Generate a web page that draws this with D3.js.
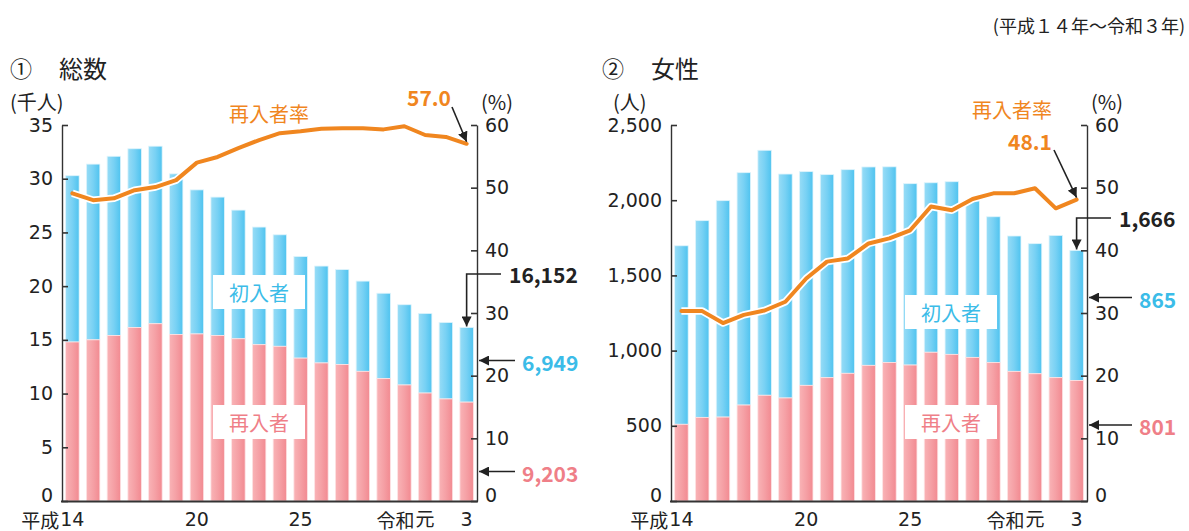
<!DOCTYPE html>
<html><head><meta charset="utf-8">
<script src="https://cdn.jsdelivr.net/npm/d3@7"></script>
<style>
html,body{margin:0;padding:0;background:#fff;}
svg{display:block;font-family:"Noto Sans CJK JP","Noto Sans",sans-serif;}
</style></head>
<body>
<svg id="chart" width="1189" height="531"></svg>
<script>
// ---- data ----
const years = ["平成14","15","16","17","18","19","20","21","22","23","24","25","26","27","28","29","30","令和元","2","3"];
const shownYears = ["平成14","20","25","令和元","3"];

// ① 総数 (千人)
const totalRe    = [14.80,15.00,15.40,16.15,16.50,15.50,15.55,15.40,15.10,14.55,14.40,13.30,12.85,12.70,12.07,11.39,10.80,10.05,9.50,9.203];
const totalFirst = [15.48,16.36,16.69,16.64,16.53,14.95,13.41,12.89,11.98,10.95,10.38,9.46,9.02,8.84,8.40,7.95,7.47,7.41,7.12,6.949];
const totalRate  = [49.1,48.0,48.3,49.6,50.1,51.2,54.0,54.9,56.3,57.6,58.7,59.0,59.4,59.5,59.5,59.3,59.8,58.4,58.1,57.0];
const totalTicks = [0,5,10,15,20,25,30,35];

// ② 女性 (人)
const femRe    = [510,556,558,638,703,685,769,820,849,902,921,904,989,975,955,920,862,846,820,801];
const femFirst = [1187,1308,1439,1545,1629,1489,1421,1350,1354,1319,1301,1206,1127,1148,1040,970,900,865,946,865];
const femRate  = [30.3,30.3,28.4,29.7,30.4,31.8,35.5,38.2,38.7,41.1,41.9,43.2,47.0,46.4,48.2,49.1,49.1,49.9,46.7,48.1];
const femTicks = [0,500,1000,1500,2000,2500];

const rateTicks = [0,10,20,30,40,50,60];

// ---- colours ----
const C = {axis:"#333", text:"#222", orange:"#f0861f", blue:"#3bbce8", pink:"#ef7f88"};
const NUMFONT = "'DejaVu Sans','Noto Sans CJK JP',sans-serif";

const svg = d3.select("#chart");
const defs = svg.append("defs");
function grad(id, stops){
  const g = defs.append("linearGradient").attr("id",id).attr("x1",0).attr("x2",1).attr("y1",0).attr("y2",0);
  stops.forEach(s=>g.append("stop").attr("offset",s[0]).attr("stop-color",s[1]));
}
grad("gBlue",[[0,"#97dcf6"],[0.5,"#78d1f4"],[1,"#4fc3ef"]]);
grad("gPink",[[0,"#f9b3b6"],[0.5,"#f5a0a5"],[1,"#f28a91"]]);
defs.append("marker").attr("id","arr").attr("viewBox","0 0 10 10").attr("refX",10).attr("refY",5)
  .attr("markerWidth",10).attr("markerHeight",10).attr("markerUnits","userSpaceOnUse").attr("orient","auto")
  .append("path").attr("d","M0,0 L10,5 L0,10 Z").attr("fill","#222");

function panel(cfg){
  const g = svg.append("g");
  const x = d3.scaleBand().domain(d3.range(years.length)).range([cfg.x0,cfg.x1]).paddingInner(0.35).paddingOuter(0.175);
  const y = d3.scaleLinear().domain([0,cfg.max]).range([cfg.yB,cfg.yT]);
  const yr = d3.scaleLinear().domain([0,60]).range([cfg.yB,cfg.yT]);

  // bars
  const stack = years.map((yy,i)=>({i, re:cfg.re[i], first:cfg.first[i]}));
  g.append("g").selectAll("rect").data(stack).join("rect")
    .attr("x",d=>x(d.i)).attr("width",x.bandwidth())
    .attr("y",d=>y(d.re+d.first)).attr("height",d=>y(d.re)-y(d.re+d.first))
    .attr("fill","url(#gBlue)").attr("stroke","#dff4fc").attr("stroke-width",0.8);
  g.append("g").selectAll("rect").data(stack).join("rect")
    .attr("x",d=>x(d.i)).attr("width",x.bandwidth())
    .attr("y",d=>y(d.re)).attr("height",d=>cfg.yB-y(d.re))
    .attr("fill","url(#gPink)").attr("stroke","#fde3e4").attr("stroke-width",0.8);

  // label boxes
  cfg.boxes.forEach(b=>{
    g.append("rect").attr("x",b.x).attr("y",b.y).attr("width",92).attr("height",34).attr("fill","#fff");
    g.append("text").attr("x",b.x+46).attr("y",b.y+17).attr("text-anchor","middle").attr("dominant-baseline","central")
      .attr("font-size",20).attr("fill",b.c).text(b.t);
  });

  // rate line
  const line = d3.line().x((d,i)=>x(i)+x.bandwidth()/2).y(d=>yr(d));
  g.append("path").datum(cfg.rate).attr("d",line).attr("fill","none").attr("stroke","#fff").attr("stroke-width",7.5).attr("stroke-linejoin","round");
  g.append("path").datum(cfg.rate).attr("d",line).attr("fill","none").attr("stroke",C.orange).attr("stroke-width",4).attr("stroke-linejoin","round").attr("stroke-linecap","round");

  // axes
  const aL = d3.axisLeft(y).tickValues(cfg.ticks).tickSizeInner(-6).tickSizeOuter(0).tickPadding(9).tickFormat(cfg.fmt);
  const gl = g.append("g").attr("transform",`translate(${cfg.x0},0)`).call(aL);
  const aR = d3.axisRight(yr).tickValues(rateTicks).tickSizeInner(-6).tickSizeOuter(0).tickPadding(8).tickFormat(d3.format("d"));
  const gr = g.append("g").attr("transform",`translate(${cfg.x1},0)`).call(aR);
  [gl,gr].forEach(a=>{
    a.selectAll("path.domain").attr("stroke",C.axis).attr("stroke-width",1.4);
    a.selectAll(".tick line").attr("stroke",C.axis).attr("stroke-width",1.6);
    a.selectAll(".tick text").attr("font-size",19).attr("fill",C.text).attr("font-family",NUMFONT);
    a.selectAll(".tick").filter(d=>d===0).select("text").attr("y",-6);
  });
  g.append("line").attr("x1",cfg.x0-1).attr("x2",cfg.x1+1).attr("y1",cfg.yB+0.5).attr("y2",cfg.yB+0.5).attr("stroke",C.axis).attr("stroke-width",2);

  // x labels: number part centred under its bar
  shownYears.forEach(lbl=>{
    const i = years.indexOf(lbl);
    const m = lbl.match(/^(平成|令和)?(.*)$/);
    const cx = x(i)+x.bandwidth()/2;
    const num = g.append("text").attr("x",cx).attr("y",519).attr("text-anchor","middle").attr("dominant-baseline","central")
      .attr("font-size",19).attr("fill",C.text).attr("font-family",NUMFONT).text(m[2]);
    if(m[1]){
      const w = num.node().getComputedTextLength();
      g.append("text").attr("x",cx-w/2-1).attr("y",519).attr("text-anchor","end").attr("dominant-baseline","central")
        .attr("font-size",19).attr("fill",C.text).text(m[1]);
    }
  });

  // titles / units
  const T = (xx,yy,t,o)=>{ const e=g.append("text").attr("x",xx).attr("y",yy).attr("dominant-baseline","central").text(t);
    Object.entries(o||{}).forEach(([k,v])=>e.attr(k,v)); return e; };
  T(cfg.titleX,67,cfg.num,{"font-size":22,fill:C.text});
  T(cfg.titleX+49,67,cfg.title,{"font-size":24,fill:C.text});
  T(cfg.unitX,101,cfg.unit,{"font-size":20,fill:C.text});
  T(cfg.x1+4,101,"(%)",{"font-size":20,fill:C.text});
  T(cfg.rateLbl[0],cfg.rateLbl[1],"再入者率",{"font-size":20,fill:C.orange,"text-anchor":"middle"});

  // annotations
  const last = years.length-1, lx = x(last)+x.bandwidth()/2;
  T(cfg.rv[0],cfg.rv[1],d3.format(".1f")(cfg.rate[last]),{"font-size":21,"font-weight":"bold",fill:C.orange,"text-anchor":"middle"});
  g.append("line").attr("x1",cfg.rv[2]).attr("y1",cfg.rv[3]).attr("x2",lx).attr("y2",yr(cfg.rate[last])-2)
    .attr("stroke","#222").attr("stroke-width",1.6).attr("marker-end","url(#arr)");
  const tot = cfg.re[last]+cfg.first[last];
  T(cfg.tv[0],cfg.tv[1],cfg.totFmt(tot),{"font-size":21,"font-weight":"bold",fill:C.text});
  g.append("path").attr("d",`M${cfg.tv[0]-8},${cfg.tv[1]} H${lx} V${y(tot)-1}`).attr("fill","none")
    .attr("stroke","#222").attr("stroke-width",1.6).attr("marker-end","url(#arr)");
  const ax0 = cfg.ax, ax1 = cfg.x1+2;
  [[cfg.fy,cfg.first[last],C.blue],[cfg.ry,cfg.re[last],C.pink]].forEach(([yy,v,c])=>{
    g.append("line").attr("x1",ax0).attr("x2",ax1).attr("y1",yy).attr("y2",yy).attr("stroke","#222").attr("stroke-width",1.6).attr("marker-end","url(#arr)");
    T(ax0+7,yy+1,cfg.totFmt(v),{"font-size":21,"font-weight":"bold",fill:c});
  });
}

panel({x0:62,x1:477,yT:125,yB:501,max:35,ticks:totalTicks,fmt:d3.format("d"),
  re:totalRe,first:totalFirst,rate:totalRate,
  boxes:[{x:213,y:275,t:"初入者",c:C.blue},{x:213,y:405,t:"再入者",c:C.pink}],
  titleX:10,num:"①",title:"総数",unitX:10,unit:"(千人)",rateLbl:[269,113],
  rv:[429,97,452,107],tv:[509,274],totFmt:v=>d3.format(",")(Math.round(v*1000)),
  ax:515,fy:360.5,ry:471.5});

panel({x0:671,x1:1087,yT:125,yB:501,max:2500,ticks:femTicks,fmt:d3.format(","),
  re:femRe,first:femFirst,rate:femRate,
  boxes:[{x:905,y:295,t:"初入者",c:C.blue},{x:905,y:405,t:"再入者",c:C.pink}],
  titleX:602,num:"②",title:"女性",unitX:613,unit:"(人)",rateLbl:[1012,109],
  rv:[1030,141,1054,150],tv:[1119,218],totFmt:v=>d3.format(",")(Math.round(v)),
  ax:1132,fy:297.5,ry:425});

svg.append("text").attr("x",1185).attr("y",25).attr("text-anchor","end").attr("dominant-baseline","central")
  .attr("font-size",18).attr("fill","#222").text("(平成１４年～令和３年)");
</script>
</body></html>
